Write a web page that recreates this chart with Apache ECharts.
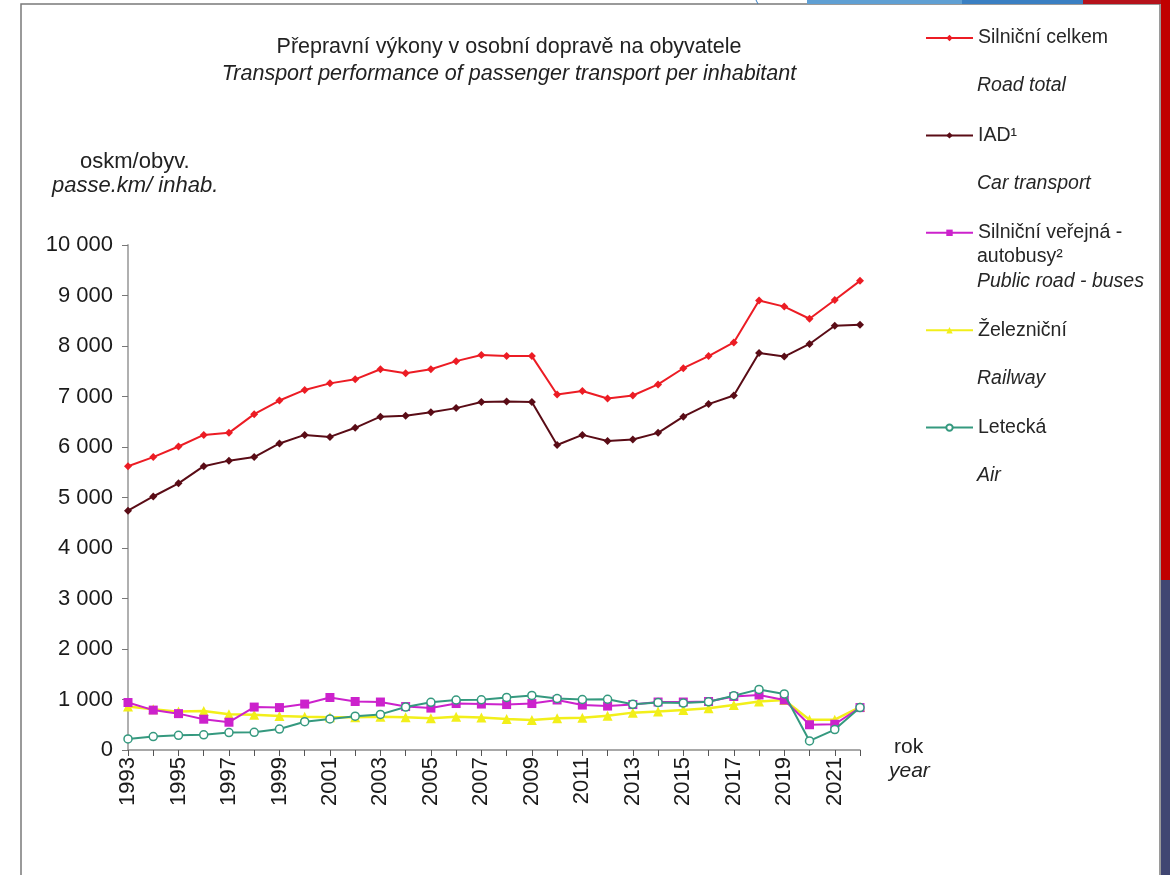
<!DOCTYPE html>
<html>
<head>
<meta charset="utf-8">
<script src="https://cdn.jsdelivr.net/npm/echarts@6/dist/echarts.min.js"></script>
<style>
html,body{margin:0;padding:0;background:#fff;}
#chart{width:1170px;height:875px;}
</style>
</head>
<body>
<div id="chart"></div>
<script>
const years = ['1993','1994','1995','1996','1997','1998','1999','2000','2001','2002','2003','2004','2005','2006','2007','2008','2009','2010','2011','2012','2013','2014','2015','2016','2017','2018','2019','2020','2021','2022'];
const roadTotal = [5620,5800,6010,6240,6280,6650,6920,7130,7260,7340,7540,7460,7540,7700,7820,7800,7800,7040,7110,6960,7020,7240,7560,7800,8070,8900,8780,8540,8910,9290];
const carTransport = [4740,5020,5280,5620,5730,5800,6070,6240,6200,6380,6600,6620,6690,6770,6890,6900,6890,6040,6240,6120,6150,6280,6600,6850,7020,7860,7790,8040,8400,8420];
const buses = [940,790,720,610,550,850,840,910,1040,960,950,860,830,920,910,900,920,990,890,870,900,950,950,960,1060,1090,990,500,510,840];
const railway = [860,805,760,770,710,700,675,660,650,650,660,650,630,660,645,615,595,630,640,680,740,760,790,825,890,960,990,600,600,850];
const air = [220,265,290,300,345,350,415,560,615,670,705,850,945,990,995,1040,1080,1020,1000,1005,905,940,930,955,1075,1200,1110,180,405,840];

const titleCz = 'Přepravní výkony v osobní dopravě na obyvatele';
const titleEn = 'Transport performance of passenger transport per inhabitant';
const nameCz = ['Silniční celkem','IAD¹','Silniční veřejná -','Železniční','Letecká'];
const nameEn = [['Road total'],['Car transport'],['autobusy²','Public road - buses'],['Railway'],['Air']];
const yTicks = { min: 0, max: 10000, step: 1000 };

const FONT = '"Liberation Sans", Arial, sans-serif';
const chart = echarts.init(document.getElementById('chart'), null, {renderer:'canvas'});

function fmt(v){ return String(v).replace(/\B(?=(\d{3})+(?!\d))/g, ' '); }

const legendTop = 27, rowStep = 97.4;
const enTexts = [];
[[85],[183],[256,281],[378],[475]].forEach((ys, i) => {
  ys.forEach((y, j) => {
    const txt = nameEn[i][j];
    const italic = !(i === 2 && j === 0);
    enTexts.push({type:'text', left:977, top:y-9, z:10,
      style:{text:txt, font:(italic?'italic ':'')+'19.5px '+FONT, fill:'#262626'}});
  });
});

const option = {
  backgroundColor:'#ffffff',
  textStyle:{fontFamily:FONT},
  animation:false,
  title:{
    text:titleCz, subtext:titleEn,
    left:504, top:31, textAlign:'center', itemGap:5,
    textStyle:{fontSize:21.5, fontWeight:'normal', color:'#222', fontFamily:FONT},
    subtextStyle:{fontSize:21.5, fontStyle:'italic', color:'#222', fontFamily:FONT}
  },
  legend:{
    orient:'vertical', left:920, top:legendTop - 4,
    itemWidth:47, itemHeight:8, itemGap:rowStep-20,
    textStyle:{fontSize:19.5, color:'#262626', lineHeight:20, fontFamily:FONT},
    data:nameCz
  },
  grid:{left:128, right:310, top:245, bottom:125, containLabel:false},
  xAxis:{
    type:'category', data:years, boundaryGap:false,
    axisLine:{lineStyle:{color:'#8c8c8c', width:1.5}},
    axisTick:{show:true, interval:0, length:6, lineStyle:{color:'#555'}},
    axisLabel:{interval:1, rotate:90, margin:7, fontSize:22, color:'#1a1a1a', fontFamily:FONT},
    splitLine:{show:false}
  },
  yAxis:{
    type:'value', min:yTicks.min, max:yTicks.max, interval:yTicks.step,
    axisLine:{show:true, lineStyle:{color:'#b0b0b0', width:2}},
    axisTick:{show:true, length:6, lineStyle:{color:'#777'}},
    axisLabel:{formatter:fmt, fontSize:22, color:'#1a1a1a', margin:15, fontFamily:FONT},
    splitLine:{show:false}
  },
  graphic:[
    {type:'rect', shape:{x:21, y:4, width:1139, height:900}, style:{fill:'none', stroke:'#7a7a7a', lineWidth:1.5}, z:-1},
    {type:'rect', shape:{x:807, y:0, width:155, height:4}, style:{fill:'#5f9fd3'}, z:-1},
    {type:'rect', shape:{x:962, y:0, width:121, height:4}, style:{fill:'#3a7fc2'}, z:-1},
    {type:'rect', shape:{x:1083, y:0, width:87, height:4}, style:{fill:'#b5121b'}, z:-1},
    {type:'line', shape:{x1:756, y1:0, x2:758, y2:4}, style:{stroke:'#3a7fc2', lineWidth:1}, z:-1},
    {type:'rect', shape:{x:1161, y:0, width:9, height:580}, style:{fill:'#c00000'}, z:-1},
    {type:'rect', shape:{x:1161, y:580, width:9, height:295}, style:{fill:'#404672'}, z:-1},
    {type:'text', left:80, top:151, style:{text:'oskm/obyv.', font:'22px '+FONT, fill:'#222'}},
    {type:'text', left:52, top:175, style:{text:'passe.km/ inhab.', font:'italic 22px '+FONT, fill:'#222'}},
    {type:'text', left:894, top:737, style:{text:'rok', font:'21px '+FONT, fill:'#222'}},
    {type:'text', left:889, top:761, style:{text:'year', font:'italic 21px '+FONT, fill:'#222'}}
  ].concat(enTexts),
  series:[
    {name:nameCz[0], type:'line', data:roadTotal, z:3,
      lineStyle:{color:'#ec1c24', width:2}, itemStyle:{color:'#ec1c24'},
      symbol:'diamond', symbolSize:8},
    {name:nameCz[1], type:'line', data:carTransport, z:3,
      lineStyle:{color:'#5a0c16', width:2}, itemStyle:{color:'#5a0c16'},
      symbol:'diamond', symbolSize:8},
    {name:nameCz[2], type:'line', data:buses, z:4,
      lineStyle:{color:'#cc22cc', width:2}, itemStyle:{color:'#cc22cc'},
      symbol:'rect', symbolSize:9},
    {name:nameCz[3], type:'line', data:railway, z:2,
      lineStyle:{color:'#f2ef1a', width:2.5}, itemStyle:{color:'#f2ef1a'},
      symbol:'triangle', symbolSize:10},
    {name:nameCz[4], type:'line', data:air, z:5,
      lineStyle:{color:'#35997f', width:2}, itemStyle:{color:'#ffffff', borderColor:'#35997f', borderWidth:1.5},
      symbol:'circle', symbolSize:8}
  ]
};
chart.setOption(option);
</script>
</body>
</html>
